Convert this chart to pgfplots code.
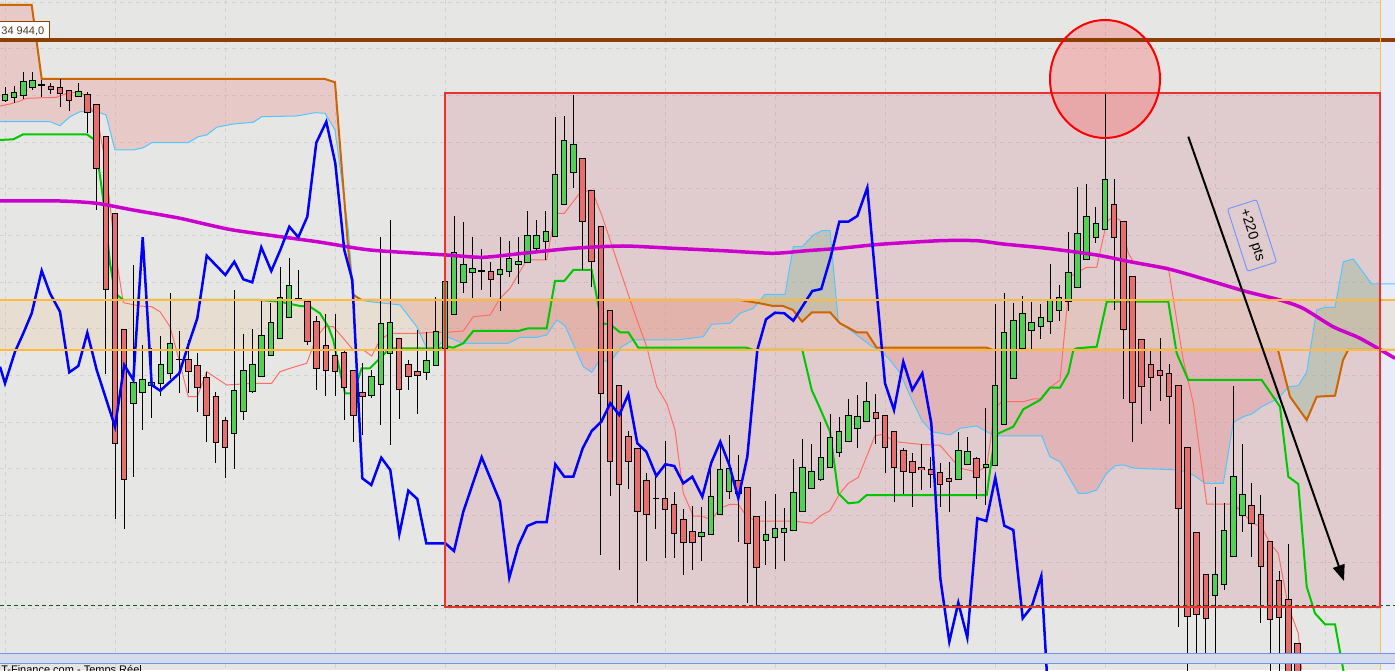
\documentclass[border=0pt]{standalone}
\usepackage{pgfplots}
\usepackage{pgfplotstable}
\pgfplotsset{compat=1.18}
\usepgfplotslibrary{fillbetween}
\usetikzlibrary{arrows.meta}
\usepackage{fontspec}
\setmainfont{Liberation Sans}

\definecolor{bgc}{RGB}{230,230,229}
\definecolor{gridc}{RGB}{210,210,210}
\definecolor{candleup}{RGB}{80,210,80}
\definecolor{candledn}{RGB}{232,110,110}
\definecolor{spanA}{RGB}{80,200,255}
\definecolor{spanB}{RGB}{204,102,0}
\definecolor{tenkan}{RGB}{255,110,100}
\definecolor{kijun}{RGB}{0,200,0}
\definecolor{chikou}{RGB}{0,0,255}
\definecolor{mavg}{RGB}{204,0,204}
\definecolor{lvl}{RGB}{255,185,60}
\definecolor{brownl}{RGB}{139,64,0}
\definecolor{zonered}{RGB}{205,110,125}
\definecolor{cloudred}{RGB}{235,140,140}
\definecolor{cloudgreen}{RGB}{120,200,150}
\definecolor{beige}{RGB}{240,190,120}
\definecolor{futurebg}{RGB}{232,236,248}
\definecolor{dashc}{RGB}{20,90,20}
\definecolor{nowline}{RGB}{255,190,80}
\definecolor{boxred}{RGB}{235,50,50}
\definecolor{tagblue}{RGB}{110,150,255}
\definecolor{tagtext}{RGB}{80,55,30}
\definecolor{stripfill}{RGB}{211,219,236}
\definecolor{stripline}{RGB}{110,150,235}

% candles: i = bar index, o h l c in screen units (y grows downward)
\pgfplotstableread{
i o h l c
0 101 86.7 101.7 94.3
1 98.3 86 103.3 92.3
2 95.7 72 99 81.3
3 88.3 72 90 80.3
8 96.7 83.3 96.7 91
14 404 265 476.7 382.3
15 393.3 345 430 379.3
16 386 348.3 418.3 382.3
17 384.3 336 395.7 364.3
18 374.3 293 379.3 343.3
25 434.3 290 469.3 390.3
26 412.3 334 420 370.3
27 391.7 328.7 393.3 364.3
28 377 299 377 335.3
29 356.3 303.3 356.3 322.3
30 339.3 267.3 339.3 297.3
31 318.3 258.3 318.3 285.3
32 300.7 270 300.7 298.3
40 395.7 370 398 376
41 385.3 236.7 425 323.3
42 354.3 220 445.3 322.3
46 373.3 332 380.3 359.7
47 366.3 297.3 366.3 331.3
48 349.3 278 349.3 281.3
49 315.3 216 315.3 251.7
50 283.3 222.3 292.7 264.3
51 273.3 237 298.3 268.3
54 275.3 237 310.7 269.3
55 272.3 241 276.7 258.3
56 265.3 237 283.7 261.3
57 263.3 211 263.3 235.3
58 249.3 220 251.7 235.3
59 242.3 211 260 231.3
60 237.3 117 237.3 174.3
61 205.3 116 205.3 140.3
62 173.3 95 187.7 144.3
76 537.3 507 560.7 532.3
77 535.3 462 535.3 496.3
78 515.3 442.3 515.3 469.3
79 492.3 435.3 499.3 468.3
83 541.3 501.3 564.7 534.3
84 538.3 494.3 568.7 528.3
85 533.3 508.3 560.7 528.3
86 531.3 459 531.3 492.3
87 512.3 439 512.3 467.3
88 489.3 444 489.3 471.3
89 480.3 422 481.3 457.3
90 468.3 414 468.3 437.3
91 453.3 417 457.3 431.3
92 442.3 399 442.3 415.3
93 429.3 395.3 448.3 416.3
94 422.3 382.3 422.3 401.3
104 480.3 432.3 480.3 450.3
105 465.3 437.3 465.3 451.3
107 468.3 408.3 505.3 464.3
108 466.3 304 466.3 385.3
109 425 292.7 425 332.3
110 379.3 302.7 379.3 320
111 349.3 296 349.3 313.3
112 331.3 301.7 350 322.3
113 327.3 304 339.3 317.3
114 322.3 264 334.3 299.3
115 311.3 285 320.7 296.7
116 302.3 232.3 311 272.3
117 288.3 187 288.3 233.3
118 260.3 184 260.3 216.3
119 238.3 207 243.3 222.7
120 230.3 92 230.3 179.3
132 596.3 486.7 652.7 574.3
133 585.3 503.3 590 530.3
134 557.3 386.3 557.3 476.3
135 516.3 444.3 532.3 494.3
}\upbars

\pgfplotstableread{
i o h l c
4 84.3 80 96.7 86.3
5 85.7 83.3 94.3 90.3
6 87.3 78.7 106.7 94.3
7 90.3 90.3 110.7 101.3
9 93.7 92 133.3 112.7
10 103.7 103.7 210 169.3
11 136.3 136.3 374 290.3
12 213.3 213.3 519.3 444.3
13 328.7 328.7 528.7 480.3
19 359 331 393.3 360
20 359.3 340 393.3 372.3
21 365.3 353.3 411.7 388.3
22 377 371.7 441.7 416.3
23 396.3 392 462.7 443.3
24 420.3 416.7 477.7 448.3
33 300.7 300.7 345 342.3
34 321.3 316 390 369.3
35 345.3 314.3 395.7 370.7
36 355.3 314.3 395.7 372.3
37 352.3 350 420 388.3
38 370.3 370.3 442.5 415.7
39 392.3 363.3 435 397.3
43 338.3 338.3 419 390.3
44 364.3 360 390.3 377.3
45 371.3 330 414.3 376.3
52 270.3 249.3 290 271.3
53 270.7 262.3 296.7 280.3
63 158.3 158.3 270 222.3
64 190.3 190.3 286.7 262.3
65 226.3 226.3 555 394
66 310.3 310.3 495.7 461.7
67 385.3 385.3 570 485.3
68 435.7 431 488.7 462.3
69 448.3 448.3 602.7 512.3
70 480.3 473.3 560.7 515.3
71 497.7 475 528.7 498.7
72 498.3 441 557.7 510.3
73 504.3 492.3 557.7 534.3
74 519.3 509 574.7 543.3
75 531.3 506 569.7 543.3
80 480.3 455.3 541.7 494.3
81 487.3 487.3 602.7 544.3
82 516.3 516.3 608.3 567.7
95 412.3 394.3 444.3 419.3
96 415.3 415.3 473.3 448.3
97 431.3 431.3 501.7 468.3
98 450.3 448 494.3 472.3
99 461.3 453.3 507.3 473.3
100 467.3 444.3 490.3 470.3
101 469.3 457.3 488.3 475.3
102 472.3 463.3 507.3 485.3
103 478.3 462.3 511.7 482.3
106 458.3 457.3 499.3 478.3
121 204.3 179 310 238.3
122 221.3 221.3 399.3 330.3
123 275.7 275.7 442.3 403.3
124 339.3 339.3 424.3 387.3
125 363.7 350 411 378.3
126 370.3 338.3 401.3 376
127 373.3 364 424.3 397.3
128 385.3 385.3 627.3 509.3
129 447.3 447.3 675 616.7
130 532.3 532.3 652.7 615.3
131 574.3 574.3 655.3 619.3
136 505.3 483.3 557.3 524.3
137 514.3 495.3 623.3 567.3
138 541.3 541.3 675 620.3
139 580.3 571.3 675 618.3
140 599.3 544 675 675
141 643.3 643.3 675 675
}\downbars

% leading span B (orange) and span A (light blue)
\pgfplotstableread{
x y
0 5
31.7 5
41.7 79
325 79
335 82.3
348.3 250
353.3 295
361.7 300
740 300
760 303.3
773 306
783 306
793 310
802 321.7
812 312.3
830 312.3
840 323.3
856.7 332.3
866.7 332.3
876.7 347.7
986.7 347.7
993 350
1278 350
1290 396.7
1306.7 420
1316.7 396.7
1335 395.7
1343 360
1348 350
1395 350
}\spanBtab

\pgfplotstableread{
x y
0 121.7
50 121.7
60 125.7
70 116.7
80 111.7
96.7 111.7
106 115
115 150
133.3 150
143.3 147.7
151.7 142.7
188.3 142.7
198.3 136.7
206.7 135
216.7 127.3
233.3 124
253.3 122.3
261.7 116.7
296.7 116
315 112.7
325 113.3
335 130
348.3 230
353.3 293.3
360 300
370 301.7
400 305
416.7 326.7
426.7 348.3
436.7 348.3
446.7 336.7
463.3 343.3
508.3 343.3
520 337.3
536.7 337.3
546.7 335
556.7 320
565 325.7
583.3 366.7
591.7 372.3
600 359.3
610 362.3
621.7 346.7
633.3 340
676.7 340
703.3 336.7
711.7 324.3
730 323.3
740 313.3
753.3 308.3
765 294.3
785 294.3
793.3 246.7
802.3 246.7
813.3 235
821.7 230.7
830 230.7
838.3 321.7
850 330
870 345
883 353
890 360
900 373
912 400
921.7 420
931.7 431.7
950 435
960 428.3
976.7 426
986.7 431.7
995 436
1041.7 436
1050 456.7
1060 461.7
1078.3 493.3
1086.7 493.3
1096.7 490
1106.7 473.3
1115 465.7
1123.3 465
1135 468.3
1180 470
1193.3 475
1205 483.3
1223.3 483.3
1233.3 422.3
1243.3 416.7
1251.7 414
1261.7 406.7
1271.7 401.7
1280 396.7
1288.3 386.7
1298.3 385.7
1306.7 372
1316.7 310
1325 307.3
1335 307.3
1343.3 261.7
1353.3 259
1371.7 284
1395 284
}\spanAtab

\begin{document}
\begin{tikzpicture}
\begin{axis}[
  name=ax,
  width=1395pt, height=670pt, scale only axis,
  xmin=0, xmax=1395, ymin=0, ymax=670, y dir=reverse,
  axis line style={draw=none},
  axis background/.style={fill=bgc},
  xtick={5,115,...,1325},
  ytick={2,48.7,95.3,142,188.7,235.3,282,328.7,375.3,422,468.7,515.3,562,608.7,655.3},
  xticklabels={}, yticklabels={},
  major tick length=0pt,
  grid=major,
  major grid style={gridc, dash pattern=on 4pt off 4pt, line width=0.8pt},
  clip=true,
]
% zone right of the last bar
\fill[futurebg] (1380,0) rectangle (1395,670);
% price band
\fill[beige, fill opacity=0.18] (0,300) rectangle (1395,350);
% trading box
\fill[zonered, fill opacity=0.22] (445,93) rectangle (1380,607);

% cloud
\addplot[draw=none, name path=B] table {\spanBtab};
\addplot[draw=none, name path=A] table {\spanAtab};
\addplot[fill=cloudred, fill opacity=0.32] fill between[of=B and A, soft clip={domain=0:758}];
\addplot[fill=cloudgreen, fill opacity=0.35] fill between[of=B and A, soft clip={domain=758:838}];
\addplot[fill=cloudred, fill opacity=0.32] fill between[of=B and A, soft clip={domain=838:1287}];
\addplot[fill=cloudgreen, fill opacity=0.35] fill between[of=B and A, soft clip={domain=1287:1395}];

% high marker
\fill[red!70, fill opacity=0.28] (1105,79) ellipse [x radius=55, y radius=59];

\addplot[spanA, line width=1pt, mark=none] table {\spanAtab};
\addplot[spanB, line width=2pt, mark=none] table {\spanBtab};

% tenkan
\addplot[tenkan, line width=1pt, mark=none] coordinates {
(0,106) (10,104) (20,101) (26.7,98.3) (56.7,97.3) (66.7,93.3) (80,92) (86.7,96.7)
(91.7,110) (96.7,115) (105,160) (115,250) (123.3,302.7) (140,306) (151.7,306.7)
(160,311.7) (170,326.7) (180,363.3) (188.3,396.7) (197.3,396.7) (206.7,371.7)
(226.7,385) (253.3,383.3) (271.7,383.3) (280,371.7) (290,368.3) (306.7,363.3)
(316.7,336.7) (325,326.7) (333.3,326.7) (353.3,350) (363.3,350) (371.7,356)
(380,340) (390,333.3) (416.7,333.3) (433.3,332.3) (446.7,332.3) (463.3,331)
(473.3,316.7) (490,315) (500,298.3) (510,288.3) (526.7,260) (546.7,260)
(555,213.3) (564.3,213.3) (580,192.7) (591.7,190) (601.7,215) (620,270)
(637,320) (646.7,346.7) (656.7,386.7) (666.7,403.3) (675,430) (683.3,493.3)
(693.3,516) (701.7,516) (711.7,520) (720,508.3) (730,504.3) (738.3,504.3)
(746.7,516.7) (756.7,521) (793.3,521) (811.7,523.3) (821.7,515) (830,510.7)
(840,493.3) (848.3,483.3) (858.3,477.3) (875,435.7) (883.3,434.3) (895,441.7)
(920,444.3) (940,445.3) (950,456.7) (960,468.3) (976.7,471.7) (986.7,466.7)
(995,408.3) (1001.7,401.7) (1023.3,401.7) (1033.3,399) (1041.7,399) (1050,387.7)
(1060,380) (1070,276.7) (1078.3,271.7) (1086.7,267.3) (1096.7,267.3) (1106.7,221.7)
(1113.3,216.7) (1120,220) (1128.3,253.3) (1133.3,261.7) (1168.3,267.3) (1176.7,320)
(1183.3,360) (1193.3,403.3) (1206.7,504) (1233.3,504) (1243.3,513.3) (1252.3,523.3)
(1261.7,526.7) (1270,543.3) (1278.3,553.3) (1288.3,606.7) (1298.3,633.3) (1301.7,670)
};

% kijun
\addplot[kijun, line width=2pt, mark=none] coordinates {
(0,140) (13.3,139.3) (23.3,134.3) (86.7,134.3) (95,140) (103.3,200) (110,263.3)
(115,293.3) (123.3,300) (260,300) (280,301.7) (300,306) (310,306.7) (320,313.3)
(328.3,326.7) (333.3,340) (336.7,356.7) (345,393.3) (353.3,393.3) (361.7,368.3)
(370,368.3) (388.3,350) (391.7,348.3) (436.7,348.3) (448.3,346.7) (453.3,347.7)
(463.3,343.3) (473.3,331) (518.3,331) (528.3,328.3) (546.7,328.3) (555,281)
(564.3,281) (573.3,270) (591.7,270) (601.7,323.3) (610,324.3) (620,332.3)
(628.3,332.3) (638.3,347.7) (746.7,347.7) (753.3,350) (802.3,350) (811.7,390)
(820,408.3) (830,431.7) (838.3,493.3) (848.3,503.3) (858.3,502.3) (866.7,495)
(986.7,495) (995,435) (1013.3,426.7) (1023.3,409.3) (1040,400) (1050,387.7)
(1060,387.7) (1068.3,373.3) (1073.3,350) (1076.7,348.3) (1096.7,346.7)
(1106.7,301.7) (1168.3,301.7) (1176.7,353.3) (1188.3,380) (1261.7,380)
(1280,406.7) (1288.3,476.7) (1298.3,484) (1306.7,586.7) (1315,613.3)
(1325,624.3) (1335,624.3) (1343.3,670) (1346,685)
};

% candles: wicks, then bodies
\addplot[draw=none, mark=none, error bars/.cd, y dir=both, y explicit, error mark=none,
  error bar style={draw=black, line width=1pt}]
  table[x expr=5+9.1667*\thisrow{i}, y expr=(\thisrow{h}+\thisrow{l})/2,
        y error expr=(\thisrow{l}-\thisrow{h})/2] {\upbars};
\addplot[draw=none, mark=none, error bars/.cd, y dir=both, y explicit, error mark=none,
  error bar style={draw=black, line width=1pt}]
  table[x expr=5+9.1667*\thisrow{i}, y expr=(\thisrow{h}+\thisrow{l})/2,
        y error expr=(\thisrow{l}-\thisrow{h})/2] {\downbars};
\addplot[draw=none, mark=none, error bars/.cd, y dir=both, y explicit, error mark=none,
  error bar style={draw=black, line width=6.5pt}]
  table[x expr=5+9.1667*\thisrow{i}, y expr=(\thisrow{o}+\thisrow{c})/2,
        y error expr={max(abs(\thisrow{o}-\thisrow{c})/2,0.6)}] {\upbars};
\addplot[draw=none, mark=none, error bars/.cd, y dir=both, y explicit, error mark=none,
  error bar style={draw=black, line width=6.5pt}]
  table[x expr=5+9.1667*\thisrow{i}, y expr=(\thisrow{o}+\thisrow{c})/2,
        y error expr={max(abs(\thisrow{o}-\thisrow{c})/2,0.6)}] {\downbars};
\addplot[draw=none, mark=none, error bars/.cd, y dir=both, y explicit, error mark=none,
  error bar style={draw=candleup, line width=4.5pt}]
  table[x expr=5+9.1667*\thisrow{i}, y expr=(\thisrow{o}+\thisrow{c})/2,
        y error expr={max(abs(\thisrow{o}-\thisrow{c})/2-1,0)}] {\upbars};
\addplot[draw=none, mark=none, error bars/.cd, y dir=both, y explicit, error mark=none,
  error bar style={draw=candledn, line width=4.5pt}]
  table[x expr=5+9.1667*\thisrow{i}, y expr=(\thisrow{o}+\thisrow{c})/2,
        y error expr={max(abs(\thisrow{o}-\thisrow{c})/2-1,0)}] {\downbars};

% moving average
\addplot[mavg, line width=3.5pt, mark=none, smooth, tension=0.4] coordinates {
(0,201) (60,201) (96.7,203.3) (133,210) (180,218.3) (233,230) (317,241.7)
(370,250) (446.7,255) (483,257.3) (523,253.3) (573,248.3) (623,246) (673,248.3)
(723,250.7) (773,253.3) (807,250.7) (840,248.3) (880,244.3) (940,240.7)
(976.7,240.7) (1003,244) (1046.7,248.3) (1096.7,255) (1130,261.7) (1170,269.3)
(1213,281.7) (1246.7,291.7) (1280,300) (1303,308.3) (1333,326.7) (1360,338.3)
(1395,358.3)
};

% chikou
\addplot[chikou, line width=2.5pt, mark=none] coordinates {
(0,366.7) (5,383.3) (15,351.7) (23.3,333.3) (31.7,313.3) (41.7,270.7) (50,293.3)
(60,311.7) (69.3,372.3) (78.3,366) (87.3,332.7) (96.7,370) (115,426.7) (124.3,365)
(133.3,380) (142.7,237.3) (151.7,385) (160.3,390.7) (179.3,373.3) (188.3,345)
(197.3,318.3) (206.7,255.7) (225.3,275) (234.3,261.7) (243.3,279.3) (252.3,282.3)
(261.3,247.3) (271.3,271) (280.3,250) (289.3,226.7) (298.3,237.3) (307.3,216.7)
(316.3,142.7) (326.3,121.7) (335.3,163.3) (344.3,250) (352.3,280) (362.3,478.3)
(371.3,485) (381.3,457.7) (390.3,470) (399.3,534.3) (408.3,490.7) (417.3,499)
(426.3,543.3) (445.3,543.3) (454,551) (463.3,511.7) (472.3,485) (481.7,457.3)
(500,501.7) (509.3,577.7) (518.3,545.7) (527.3,526) (536.7,522) (546.7,522)
(555.3,464.3) (564.3,476.7) (573.3,476.7) (582.7,448.3) (591.7,431) (601.3,421.7)
(610.3,403.3) (619.3,415) (628.3,394.3) (637.3,443.3) (646.3,451.7) (656.3,476)
(665.3,464.3) (674.3,466) (683.3,483.3) (692.3,476.7) (702.3,496.7) (711.3,462.7)
(720.3,441.7) (729.3,465) (738.3,498.3) (747.3,456.7) (757.3,350) (766,319.3)
(775,312.7) (784.3,313.3) (793.3,320.7) (812.3,291) (821.3,289) (830.3,258.3)
(839.3,221.7) (848.3,221.7) (857.3,216) (867.3,187.7) (885,383.3) (894,410)
(903.3,361.7) (912.3,390) (922.3,373.3) (931.3,423.3) (940.3,578.3) (949.3,641.7)
(958.3,602.7) (967.3,637.7) (977.3,518.3) (986.3,521) (995.3,477.7) (1004.3,525.7)
(1013.3,530) (1022.7,618.3) (1031.7,606.7) (1041.3,576) (1046.7,670) (1047.5,690)
};

% levels
\draw[lvl, line width=2.5pt] (0,300) -- (1395,300);
\draw[lvl, line width=2.5pt] (0,350) -- (1395,350);
\draw[brownl, line width=4.5pt] (0,40) -- (1395,40);
\draw[dashc, line width=1pt, dash pattern=on 4pt off 3pt] (0,605) -- (1395,605);
\draw[nowline, line width=1.5pt] (1380.5,0) -- (1380.5,670);

% annotations
\draw[boxred, line width=2pt] (445,93) rectangle (1380,607);
\draw[red, line width=2pt] (1105,79) ellipse [x radius=55, y radius=59];
\draw[-{Triangle[length=16pt,width=12pt]}, line width=2pt] (1188.3,136.7) -- (1344,581);
\node[rotate=-72.2, draw=tagblue, line width=0.9pt,
  rounded corners=2pt, minimum width=65.5pt, minimum height=30.5pt, inner sep=0pt,
  font=\fontsize{14}{16}\selectfont] at (1252,235.5) {+220 pts};

% price tag
\draw[brownl, line width=0.9pt, fill=white] (-3,21.7) rectangle (49.3,38.3);
\node[anchor=west, inner sep=0pt, text=tagtext,
  font=\fontsize{11}{13}\selectfont] at (1.2,31) {34 944,0};

% footer strip
\fill[stripfill] (0,653.3) rectangle (1395,663.3);
\draw[stripline, line width=1pt] (0,653.3) -- (1395,653.3);
\draw[stripline, line width=1pt] (0,663.3) -- (1395,663.3);
\node[anchor=north west, inner sep=0pt, font=\fontsize{11}{13}\selectfont] at (-2,665.5) {IT-Finance.com - Temps Réel};
\end{axis}
\pgfresetboundingbox
\path[use as bounding box] (ax.south west) rectangle (ax.north east);
\end{tikzpicture}
\end{document}
